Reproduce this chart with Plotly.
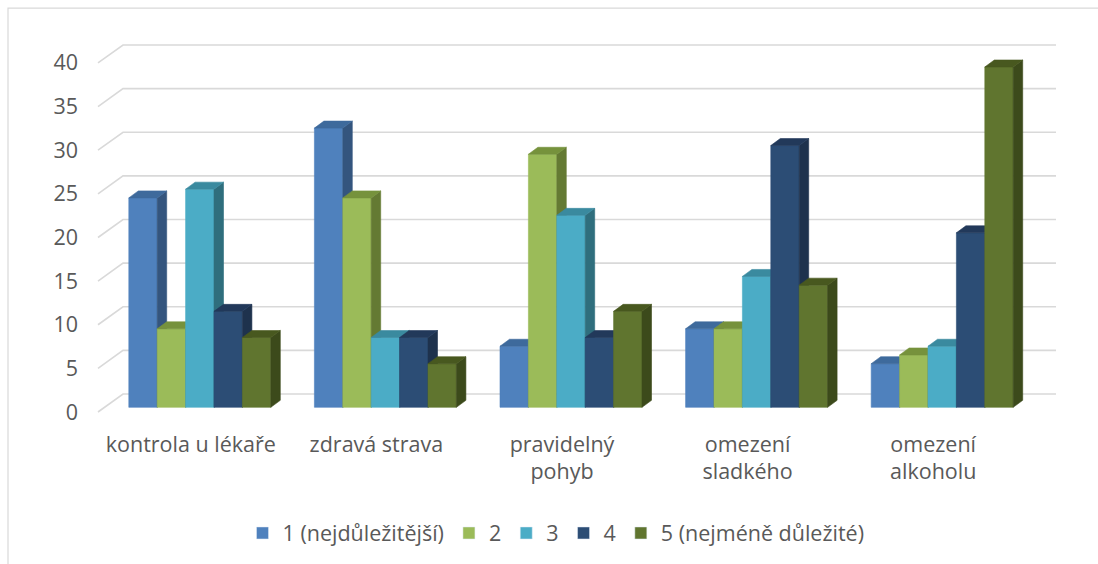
import plotly.graph_objects as go

# --- data -------------------------------------------------------------
categories = ["kontrola u lékaře", "zdravá strava", "pravidelný<br>pohyb",
              "omezení<br>sladkého", "omezení<br>alkoholu"]
series_names = ["1 (nejdůležitější)", "2", "3", "4", "5 (nejméně důležité)"]
s1 = [24, 32, 7, 9, 5]
s2 = [9, 24, 29, 9, 6]
s3 = [25, 8, 22, 15, 7]
s4 = [11, 8, 8, 30, 20]
s5 = [8, 5, 11, 14, 39]
y_ticks = [0, 5, 10, 15, 20, 25, 30, 35, 40]

series_values = [s1, s2, s3, s4, s5]

# face colours per series: front, top, side
front_colors = ["#4F81BD", "#9BBB59", "#4BACC6", "#2C4D75", "#60752F"]
top_colors = ["#3E6A9C", "#76923C", "#3A8A9F", "#22395A", "#48581F"]
side_colors = ["#34557E", "#647A33", "#2F6E7D", "#1E324D", "#3C4A1B"]

# --- geometry of the pseudo-3D projection ----------------------------
W, H = 1098, 564
PX_X = 185.6          # pixels per category
PX_Y = 8.75           # pixels per value unit
X_LEFT_PX, X_RIGHT_PX = 94, 1056
Y_TOP_PX, Y_BOT_PX = 42, 416
FRONT_LEFT_PX = 98    # left edge of the floor (category -0.5)
ZERO_PX = 413         # value 0 on the front plane

x_range = [-0.5 - (FRONT_LEFT_PX - X_LEFT_PX) / PX_X,
           -0.5 + (X_RIGHT_PX - FRONT_LEFT_PX) / PX_X]
y_range = [-(Y_BOT_PX - ZERO_PX) / PX_Y, (ZERO_PX - Y_TOP_PX) / PX_Y]

WX, WY = 25 / PX_X, 18 / PX_Y      # depth of the back wall
FX, FY = 9 / PX_X, 4.7 / PX_Y      # position of the bar front plane
BX, BY = 9.5 / PX_X, 7 / PX_Y      # depth of a bar
BW = 28.4 / PX_X                   # width of a bar

fig = go.Figure()

# back-wall gridlines and the left wall diagonals
gx, gy = [], []
for v in y_ticks:
    gx += [-0.5, -0.5 + WX, x_range[1], None]
    gy += [v, v + WY, v + WY, None]
fig.add_trace(go.Scatter(x=gx, y=gy, mode="lines",
                         line=dict(color="#D9D9D9", width=1.6),
                         hoverinfo="skip", showlegend=False))


def faces(s, values):
    fx, fy, sx, sy, tx, ty = [], [], [], [], [], []
    for g, v in enumerate(values):
        xl = g - 2.5 * BW + s * BW + FX
        xr = xl + BW
        b = FY
        t = v + FY
        fx += [xl, xr, xr, xl, xl, None]
        fy += [b, b, t, t, b, None]
        sx += [xr, xr + BX, xr + BX, xr, xr, None]
        sy += [b, b + BY, t + BY, t, b, None]
        tx += [xl, xr, xr + BX, xl + BX, xl, None]
        ty += [t, t, t + BY, t + BY, t, None]
    return (fx, fy), (sx, sy), (tx, ty)


for s, vals in enumerate(series_values):
    (fx, fy), (sx, sy), (tx, ty) = faces(s, vals)
    for (xx, yy), col in (((fx, fy), front_colors[s]),
                          ((sx, sy), side_colors[s]),
                          ((tx, ty), top_colors[s])):
        fig.add_trace(go.Scatter(
            x=xx, y=yy, mode="lines", fill="toself", fillcolor=col,
            line=dict(color=col, width=0.6), hoverinfo="skip",
            showlegend=False))

# legend entries
for s, name in enumerate(series_names):
    fig.add_trace(go.Bar(x=[None], y=[None], name=name,
                         marker=dict(color=front_colors[s])))

TEXT = "#595959"
FONT = "Open Sans"
FS = 21.5

fig.update_layout(
    width=W, height=H,
    margin=dict(l=X_LEFT_PX, r=W - X_RIGHT_PX, t=Y_TOP_PX, b=H - Y_BOT_PX),
    paper_bgcolor="white", plot_bgcolor="white",
    font=dict(family=FONT, size=FS, color=TEXT),
    xaxis=dict(type="linear", range=x_range, tickvals=list(range(len(categories))),
               ticktext=categories, showgrid=False, zeroline=False,
               showline=False, ticks="", ticklabelstandoff=14,
               tickfont=dict(family=FONT, size=FS, color=TEXT)),
    yaxis=dict(range=y_range, tickvals=y_ticks, showgrid=False, zeroline=False,
               showline=False, ticks="", ticklabelstandoff=15,
               tickfont=dict(family=FONT, size=FS, color=TEXT)),
    legend=dict(orientation="h", x=(556 - X_LEFT_PX) / (X_RIGHT_PX - X_LEFT_PX),
                xanchor="center",
                y=-(533 - Y_BOT_PX) / (Y_BOT_PX - Y_TOP_PX), yanchor="middle",
                font=dict(family=FONT, size=FS, color=TEXT),
                bgcolor="rgba(0,0,0,0)"),
    showlegend=True,
    shapes=[dict(type="rect", xref="paper", yref="paper",
                 x0=(8 - X_LEFT_PX) / (X_RIGHT_PX - X_LEFT_PX), x1=1.3,
                 y0=-0.7, y1=(Y_BOT_PX - 8) / (Y_BOT_PX - Y_TOP_PX),
                 line=dict(color="#D9D9D9", width=1.2), layer="below")],
)

fig.write_html("out.html")
